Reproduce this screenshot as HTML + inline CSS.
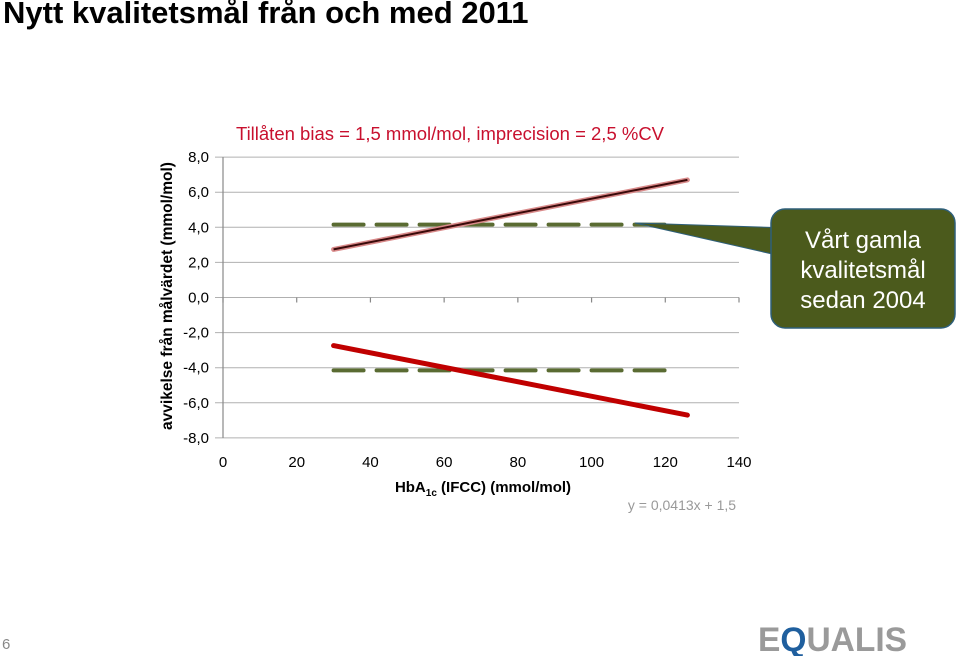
<!DOCTYPE html>
<html><head><meta charset="utf-8"><style>
body{margin:0;width:959px;height:656px;background:#fff;overflow:hidden;font-family:"Liberation Sans",sans-serif;position:relative}
#title{position:absolute;left:3px;top:-5px;font-size:31px;font-weight:bold;color:#000}
#pg{position:absolute;left:2px;top:636px;font-size:15px;color:#888}
</style></head><body>
<div id="title">Nytt kvalitetsmål från och med 2011</div>
<div id="pg">6</div>
<svg id="chart" width="959" height="656" style="position:absolute;left:0;top:0"></svg>
<script>
const yTicks=[8,6,4,2,0,-2,-4,-6,-8];
const yTickLabels=["8,0","6,0","4,0","2,0","0,0","-2,0","-4,0","-6,0","-8,0"];
const xTicks=[0,20,40,60,80,100,120,140];
const upperX=[30,126];
const upperY=[2.74,6.7];
const lowerX=[30,126];
const lowerY=[-2.74,-6.7];
const oldGoalX=[30,120];
const oldGoalUpper=[4.15,4.15];
const oldGoalLower=[-4.15,-4.15];

const NS="http://www.w3.org/2000/svg";
const svg=document.getElementById('chart');
const X=v=>223+v*(739-223)/140;
const Y=v=>297.5-v*17.55;
function mk(t,a,p){const e=document.createElementNS(NS,t);for(const k in a)e.setAttribute(k,a[k]);(p||svg).appendChild(e);return e;}
const FS='"Liberation Sans",sans-serif';
yTicks.forEach((v,i)=>{
 const g=mk('line',{x1:215,x2:739,y1:Y(v),y2:Y(v),stroke:'#b0b0b0','stroke-width':1});
 
 
 const t=mk('text',{x:209,y:Y(v)+5,'text-anchor':'end','font-size':15,'font-family':FS,fill:'#000'});
 t.textContent=yTickLabels[i];
 
 
});
const ya=mk('line',{x1:223,x2:223,y1:Y(8),y2:Y(-8),stroke:'#888','stroke-width':1.2});


xTicks.forEach(v=>{
 const tk=mk('line',{x1:X(v),x2:X(v),y1:Y(0),y2:Y(0)+5,stroke:'#888','stroke-width':1.2});
 
 
 const t=mk('text',{x:X(v),y:467,'text-anchor':'middle','font-size':15,'font-family':FS});
 t.textContent=v;
 
 
});
function dash(ys,name){
 const l=mk('line',{x1:X(oldGoalX[0]),x2:X(oldGoalX[1]),y1:Y(ys[0]),y2:Y(ys[1]),stroke:'#5a6b32','stroke-width':4,'stroke-dasharray':'30 13','stroke-linecap':'round'});
 
 
}
dash(oldGoalUpper,'old-goal-upper');
dash(oldGoalLower,'old-goal-lower');
const u1=mk('line',{x1:X(upperX[0]),x2:X(upperX[1]),y1:Y(upperY[0]),y2:Y(upperY[1]),stroke:'#d98a8a','stroke-width':5,'stroke-linecap':'round'});


const u2=mk('line',{x1:X(upperX[0]),x2:X(upperX[1]),y1:Y(upperY[0]),y2:Y(upperY[1]),stroke:'#3a0a0a','stroke-width':2});


const lo=mk('line',{x1:X(lowerX[0]),x2:X(lowerX[1]),y1:Y(lowerY[0]),y2:Y(lowerY[1]),stroke:'#c00000','stroke-width':5,'stroke-linecap':'round'});


const cp=mk('path',{d:'M635,223 L790,228 L790,258 Z',fill:'#4b5a1c',stroke:'#2e5f7a','stroke-width':1});


const cb=mk('rect',{x:771,y:209,width:184,height:119,rx:14,fill:'#4b5a1c',stroke:'#2e5f7a','stroke-width':1.5});


["Vårt gamla","kvalitetsmål","sedan 2004"].forEach((s,i)=>{
 const t=mk('text',{x:863,y:248+i*30,'text-anchor':'middle','font-size':24,'font-family':FS,fill:'#fff'});
 t.textContent=s;
 
 
});
const ct=mk('text',{x:450,y:140,'text-anchor':'middle','font-size':18.5,'font-family':FS,fill:'#c8102e'});
ct.textContent='Tillåten bias = 1,5 mmol/mol, imprecision = 2,5 %CV';


const xt=mk('text',{x:483,y:492,'text-anchor':'middle','font-size':15,'font-weight':'bold','font-family':FS});
xt.innerHTML='HbA<tspan font-size="10" dy="4">1c</tspan><tspan dy="-4"> (IFCC) (mmol/mol)</tspan>';


const yt=mk('text',{x:0,y:0,'text-anchor':'middle','font-size':15.5,'font-weight':'bold','font-family':FS,transform:'translate(172,296) rotate(-90)'});
yt.textContent='avvikelse från målvärdet (mmol/mol)';


const eq=mk('text',{x:682,y:510,'text-anchor':'middle','font-size':14,'font-family':FS,fill:'#999'});
eq.textContent='y = 0,0413x + 1,5';


const lg=mk('text',{x:758,y:651,'font-size':34,'font-weight':'bold','font-family':FS,fill:'#9a9a9a',textLength:149,lengthAdjust:'spacingAndGlyphs'});
lg.innerHTML='E<tspan fill="#1f5f9e">Q</tspan>UALIS';


</script>
</body></html>
